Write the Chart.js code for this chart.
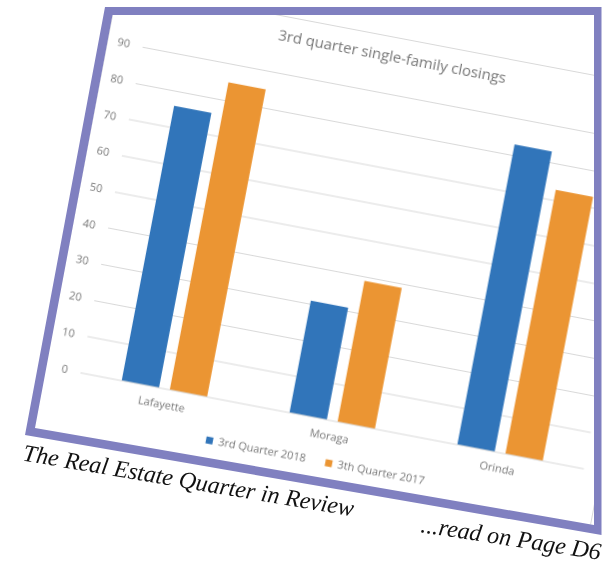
<!DOCTYPE html>
<html>
<head>
<meta charset="utf-8">
<title>3rd quarter single-family closings</title>
<script src="https://cdn.jsdelivr.net/npm/chart.js@4.4.1/dist/chart.umd.min.js"></script>
<style>
    html, body {
        margin: 0;
        padding: 0;
        background: #ffffff;
    }
    #page {
        position: relative;
        width: 611px;
        height: 562px;
        overflow: hidden;
    }
    /* the chart is cut by the inside of the purple frame */
    #clip {
        position: absolute;
        left: 0;
        top: 0;
        width: 611px;
        height: 562px;
        clip-path: polygon(112.5px 15px, 594px 15px, 594px 525px, 35px 428px);
    }
    #chartBox {
        position: absolute;
        left: 117.5px;
        top: -16.2px;
        border: 1px solid #d9d9d9;
        background: #ffffff;
        transform: rotate(10.8deg);
        transform-origin: 0 0;
    }
    #overlay {
        position: absolute;
        left: 0;
        top: 0;
    }
</style>
</head>
<body>
<div id="page">
    <div id="clip">
        <div id="chartBox">
            <canvas id="closingsChart" width="564" height="470"></canvas>
        </div>
    </div>
    <svg id="overlay" width="611" height="562" xmlns="http://www.w3.org/2000/svg">
        <path d="M105 7 L601.5 7 L601.5 535 L25 435 Z M112.5 15 L594 15 L594 525 L35 428 Z"
              fill="#8080c0" fill-rule="evenodd"/>
        <text x="22" y="460.4" transform="rotate(9.6 22 460.4)"
              font-family="Liberation Serif, serif" font-style="italic" font-size="24" fill="#111111">The Real Estate Quarter in Review</text>
        <text x="420" y="532" transform="rotate(8.8 420 532)"
              font-family="Liberation Serif, serif" font-style="italic" font-size="24" fill="#111111">...read on Page D6</text>
    </svg>
</div>

<script>
// Chart data
const categories = ['Lafayette', 'Moraga', 'Orinda'];
const seriesNames = ['3rd Quarter 2018', '3th Quarter 2017'];
const closings2018 = [76, 31, 83];
const closings2017 = [85, 39, 73];
const yMin = 0;
const yMax = 90;
const yStep = 10;

const labelGray = '#777777';

function generateClosingsChart() {
    const ctx = document.getElementById('closingsChart').getContext('2d');

    Chart.defaults.font.family = "'Open Sans', 'Noto Sans', sans-serif";

    new Chart(ctx, {
        type: 'bar',
        data: {
            labels: categories,
            datasets: [{
                label: seriesNames[0],
                data: closings2018,
                backgroundColor: '#3175ba',
                borderWidth: 0,
                categoryPercentage: 0.573,
                barPercentage: 0.776
            }, {
                label: seriesNames[1],
                data: closings2017,
                backgroundColor: '#eb9533',
                borderWidth: 0,
                categoryPercentage: 0.573,
                barPercentage: 0.776
            }]
        },
        options: {
            responsive: false,
            animation: false,
            devicePixelRatio: 2,
            layout: {
                padding: { left: 0, right: 0, top: 0, bottom: 24.2 }
            },
            plugins: {
                title: {
                    display: true,
                    text: '3rd quarter single-family closings',
                    color: '#767676',
                    font: { size: 15, weight: 'normal' },
                    padding: { top: 10.6, bottom: 27.9 }
                },
                legend: {
                    display: true,
                    position: 'bottom',
                    // empty legend title with negative padding pulls the row up
                    // so the category labels below the axis are not cut off
                    title: {
                        display: true,
                        text: '',
                        font: { size: 10 },
                        padding: { top: -19, bottom: 0 }
                    },
                    labels: {
                        boxWidth: 7,
                        boxHeight: 7,
                        padding: 20,
                        color: '#767676',
                        font: { size: 11 }
                    }
                },
                tooltip: { enabled: false }
            },
            scales: {
                x: {
                    grid: { display: false, drawTicks: false },
                    border: { display: false },
                    ticks: {
                        color: labelGray,
                        padding: 10,
                        maxRotation: 0,
                        autoSkip: false,
                        font: { size: 11 }
                    },
                    afterFit: scale => { scale.height = 23.8; }
                },
                y: {
                    min: yMin,
                    max: yMax,
                    ticks: {
                        stepSize: yStep,
                        padding: 13,
                        color: labelGray,
                        font: { size: 11 }
                    },
                    grid: {
                        color: '#d9d9d9',
                        lineWidth: 1,
                        drawTicks: false
                    },
                    border: { display: false },
                    afterFit: scale => { scale.width = 35; }
                },
                // empty right-hand strip so title and legend stay centred on the whole chart
                yPad: {
                    position: 'right',
                    grid: { display: false },
                    border: { display: false },
                    ticks: { display: false },
                    afterFit: scale => { scale.width = 16.5; }
                }
            }
        }
    });
}

document.addEventListener('DOMContentLoaded', generateClosingsChart);
</script>
</body>
</html>
